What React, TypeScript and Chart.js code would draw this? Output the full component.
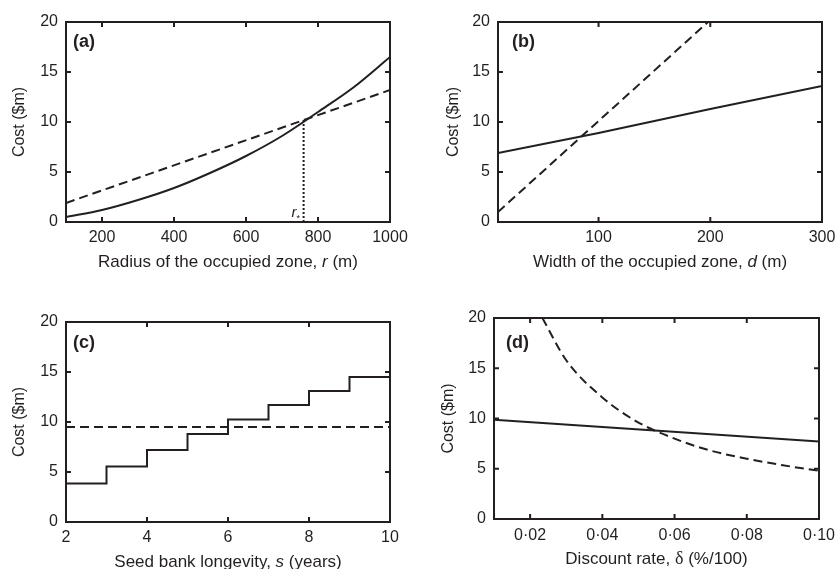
import React, { useEffect, useRef } from "react";
import { Chart, registerables } from "chart.js";

Chart.register(...registerables);

const FONT = "'Liberation Sans', Arial, Helvetica, sans-serif";
const SERIF = "'Liberation Serif', 'DejaVu Serif', serif";
const INK = "#231f20";

// ---------- Panel (a): radius of the occupied zone ----------
const radius = [100, 200, 300, 400, 500, 600, 700, 800, 900, 1000];
const costRadiusSolid = [0.5, 1.2, 2.2, 3.4, 4.9, 6.6, 8.6, 11.0, 13.5, 16.5];
const radiusDashed = [100, 1000];
const costRadiusDashed = [1.9, 13.2];
const rStar = 760;
const rStarCost = 10.2;
const radiusTicks = [200, 400, 600, 800, 1000];

// ---------- Panel (b): width of the occupied zone ----------
const widthSolid = [10, 100, 200, 300];
const costWidthSolid = [6.9, 8.9, 11.3, 13.6];
const widthDashed = [10, 198];
const costWidthDashed = [1.0, 20];
const widthTicks = [100, 200, 300];

// ---------- Panel (c): seed bank longevity ----------
const longevity = [2, 3, 4, 5, 6, 7, 8, 9, 10];
const costLongevitySolid = [3.85, 5.55, 7.2, 8.8, 10.25, 11.7, 13.1, 14.5, 14.5];
const longevityDashed = [2, 10];
const costLongevityDashed = [9.5, 9.5];
const longevityTicks = [2, 4, 6, 8, 10];

// ---------- Panel (d): discount rate ----------
const rateSolid = [0.01, 0.1];
const costRateSolid = [9.87, 7.72];
const rateDashed = [0.0234, 0.03, 0.04, 0.05, 0.06, 0.07, 0.08, 0.09, 0.1];
const costRateDashed = [20, 15.8, 12.1, 9.6, 8.0, 6.8, 6.0, 5.35, 4.8];
const rateTicks = [0.02, 0.04, 0.06, 0.08, 0.1];

const costTicks = [0, 5, 10, 15, 20];
const costTitle = "Cost ($m)";

const pts = (xs: number[], ys: number[]) => xs.map((x, i) => ({ x, y: ys[i] }));

const solid = { borderColor: INK, borderWidth: 2, pointRadius: 0, fill: false };
const dashed = { ...solid, borderDash: [9, 5] };
const dotted = { ...solid, borderDash: [2, 2] };

type Seg = [string, string];

interface Spec {
  box: { x: number; y: number; w: number; h: number };
  pad: { left: number; top: number; right: number; bottom: number };
  yWidth: number;
  xHeight: number;
  yTitlePad: number;
  xTickPad: number;
  xmin: number;
  xmax: number;
  xTicks: number[];
  fmt: (v: number) => string;
  title: Seg[];
  label: string;
  labelDx: number;
  labelDy: number;
  datasets: any[];
  annotate?: (chart: any) => void;
}

const plainFmt = (v: number) => String(v);
const dotFmt = (v: number) => v.toFixed(2).replace(".", "\u00b7");

const specs: Spec[] = [
  {
    box: { x: 0, y: 0, w: 417, h: 285 },
    pad: { left: 0, top: 22, right: 27, bottom: 14 },
    yWidth: 66,
    xHeight: 49,
    yTitlePad: 10,
    xTickPad: 6,
    xmin: 100,
    xmax: 1000,
    xTicks: radiusTicks,
    fmt: plainFmt,
    title: [["Radius of the occupied zone, ", ""], ["r", "italic"], [" (m)", ""]],
    label: "(a)",
    labelDx: 7,
    labelDy: 20,
    datasets: [
      { ...solid, data: pts(radius, costRadiusSolid), cubicInterpolationMode: "monotone" },
      { ...dashed, data: pts(radiusDashed, costRadiusDashed) },
      { ...dotted, data: pts([rStar, rStar], [0, rStarCost]) },
    ],
    annotate: (chart: any) => {
      const { ctx, scales } = chart;
      const px = scales.x.getPixelForValue(rStar);
      const py = scales.y.getPixelForValue(0);
      ctx.fillStyle = INK;
      ctx.textBaseline = "alphabetic";
      ctx.textAlign = "right";
      ctx.font = `italic 15px ${FONT}`;
      ctx.fillText("r", px - 7, py - 5);
      ctx.textAlign = "left";
      ctx.font = `9px ${FONT}`;
      ctx.fillText("*", px - 7, py - 1);
    },
  },
  {
    box: { x: 436, y: 0, w: 399, h: 285 },
    pad: { left: 0, top: 22, right: 13, bottom: 14 },
    yWidth: 62,
    xHeight: 49,
    yTitlePad: 8,
    xTickPad: 6,
    xmin: 10,
    xmax: 300,
    xTicks: widthTicks,
    fmt: plainFmt,
    title: [["Width of the occupied zone, ", ""], ["d", "italic"], [" (m)", ""]],
    label: "(b)",
    labelDx: 14,
    labelDy: 20,
    datasets: [
      { ...solid, data: pts(widthSolid, costWidthSolid) },
      { ...dashed, data: pts(widthDashed, costWidthDashed) },
    ],
  },
  {
    box: { x: 0, y: 290, w: 417, h: 300 },
    pad: { left: 0, top: 32, right: 27, bottom: 19 },
    yWidth: 66,
    xHeight: 49,
    yTitlePad: 10,
    xTickPad: 6,
    xmin: 2,
    xmax: 10,
    xTicks: longevityTicks,
    fmt: plainFmt,
    title: [["Seed bank longevity, ", ""], ["s", "italic"], [" (years)", ""]],
    label: "(c)",
    labelDx: 7,
    labelDy: 21,
    datasets: [
      { ...solid, data: pts(longevity, costLongevitySolid), stepped: true },
      { ...dashed, data: pts(longevityDashed, costLongevityDashed) },
    ],
  },
  {
    box: { x: 436, y: 290, w: 399, h: 300 },
    pad: { left: 0, top: 28, right: 16, bottom: 21 },
    yWidth: 58,
    xHeight: 50,
    yTitlePad: 3,
    xTickPad: 7,
    xmin: 0.01,
    xmax: 0.1,
    xTicks: rateTicks,
    fmt: dotFmt,
    title: [["Discount rate, ", ""], ["\u03b4", "serif"], [" (%/100)", ""]],
    label: "(d)",
    labelDx: 12,
    labelDy: 25,
    datasets: [
      { ...solid, data: pts(rateSolid, costRateSolid) },
      { ...dashed, data: pts(rateDashed, costRateDashed), cubicInterpolationMode: "monotone" },
    ],
  },
];

function segFont(style: string) {
  if (style === "italic") return `italic 17px ${FONT}`;
  if (style === "serif") return `18px ${SERIF}`;
  return `17px ${FONT}`;
}

function makeDecor(spec: Spec) {
  return {
    id: "decor",
    afterDraw(chart: any) {
      const { ctx, chartArea: a, scales } = chart;
      const xs = scales.x;
      const ys = scales.y;
      ctx.save();
      ctx.strokeStyle = INK;
      ctx.lineWidth = 2;
      ctx.strokeRect(a.left, a.top, a.right - a.left, a.bottom - a.top);
      const L = 5;
      ctx.beginPath();
      for (const t of xs.ticks) {
        const p = xs.getPixelForValue(t.value);
        if (p <= a.left + 1 || p >= a.right - 1) continue;
        ctx.moveTo(p, a.bottom);
        ctx.lineTo(p, a.bottom - L);
        ctx.moveTo(p, a.top);
        ctx.lineTo(p, a.top + L);
      }
      for (const t of ys.ticks) {
        const p = ys.getPixelForValue(t.value);
        if (p <= a.top + 1 || p >= a.bottom - 1) continue;
        ctx.moveTo(a.left, p);
        ctx.lineTo(a.left + L, p);
        ctx.moveTo(a.right, p);
        ctx.lineTo(a.right - L, p);
      }
      ctx.stroke();

      ctx.fillStyle = INK;
      ctx.font = `bold 18px ${FONT}`;
      ctx.textAlign = "left";
      ctx.textBaseline = "middle";
      ctx.fillText(spec.label, a.left + spec.labelDx, a.top + spec.labelDy);

      // x-axis title with mixed styles
      ctx.textBaseline = "alphabetic";
      let total = 0;
      const widths = spec.title.map(([t, s]) => {
        ctx.font = segFont(s);
        const w = ctx.measureText(t).width;
        total += w;
        return w;
      });
      let cx = (a.left + a.right) / 2 - total / 2;
      const base = a.bottom + 45;
      spec.title.forEach(([t, s], i) => {
        ctx.font = segFont(s);
        ctx.fillText(t, cx, base);
        cx += widths[i];
      });

      if (spec.annotate) spec.annotate(chart);
      ctx.restore();
    },
  };
}

function buildConfig(spec: Spec): any {
  return {
    type: "line",
    data: { datasets: spec.datasets },
    plugins: [makeDecor(spec)],
    options: {
      responsive: false,
      animation: false,
      events: [],
      layout: { padding: spec.pad },
      plugins: { legend: { display: false }, tooltip: { enabled: false } },
      scales: {
        x: {
          type: "linear",
          min: spec.xmin,
          max: spec.xmax,
          afterBuildTicks: (s: any) => {
            s.ticks = spec.xTicks.map((v) => ({ value: v }));
          },
          afterFit: (s: any) => {
            s.height = spec.xHeight;
            s.paddingLeft = 0;
            s.paddingRight = 0;
          },
          grid: { display: false, drawTicks: false },
          border: { display: false },
          ticks: {
            padding: spec.xTickPad,
            color: INK,
            font: { family: FONT, size: 16 },
            maxRotation: 0,
            autoSkip: false,
            callback: (v: any) => spec.fmt(Number(v)),
          },
          title: { display: false },
        },
        y: {
          type: "linear",
          min: 0,
          max: 20,
          afterBuildTicks: (s: any) => {
            s.ticks = costTicks.map((v) => ({ value: v }));
          },
          afterFit: (s: any) => {
            s.width = spec.yWidth;
            s.paddingTop = 0;
            s.paddingBottom = 0;
          },
          grid: { display: false, drawTicks: false },
          border: { display: false },
          ticks: {
            padding: 8,
            color: INK,
            font: { family: FONT, size: 16 },
            autoSkip: false,
            callback: (v: any) => String(v),
          },
          title: {
            display: true,
            text: costTitle,
            color: INK,
            font: { family: FONT, size: 16 },
            padding: { top: spec.yTitlePad, bottom: 0 },
          },
        },
      },
    },
  };
}

function Panel({ spec }: { spec: Spec }) {
  const ref = useRef<HTMLCanvasElement>(null);
  useEffect(() => {
    const chart = new Chart(ref.current as HTMLCanvasElement, buildConfig(spec));
    return () => chart.destroy();
  }, [spec]);
  return (
    <canvas
      ref={ref}
      width={spec.box.w}
      height={spec.box.h}
      style={{
        position: "absolute",
        left: spec.box.x,
        top: spec.box.y,
        width: spec.box.w,
        height: spec.box.h,
      }}
    />
  );
}

export default function App() {
  return (
    <div
      style={{
        position: "fixed",
        left: 0,
        top: 0,
        width: 835,
        height: 569,
        overflow: "hidden",
        background: "#ffffff",
      }}
    >
      {specs.map((s, i) => (
        <Panel key={i} spec={s} />
      ))}
    </div>
  );
}
